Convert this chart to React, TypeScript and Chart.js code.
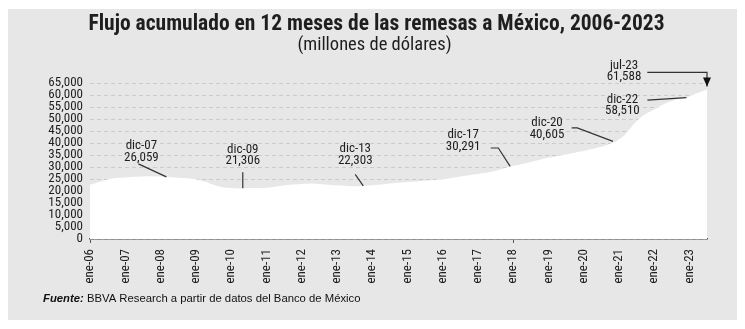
import { useEffect, useRef } from 'react';
import { Chart, registerables } from 'chart.js';

Chart.register(...registerables);

const MONTHS = ['ene', 'feb', 'mar', 'abr', 'may', 'jun', 'jul', 'ago', 'sep', 'oct', 'nov', 'dic'];
const YEARS = [2006, 2007, 2008, 2009, 2010, 2011, 2012, 2013, 2014, 2015, 2016, 2017, 2018, 2019, 2020, 2021, 2022, 2023];
const MONTHS_IN_2023 = 7;

const CATEGORIES = YEARS.flatMap((y) =>
  MONTHS.slice(0, y === 2023 ? MONTHS_IN_2023 : 12).map((m) => `${m}-${String(y).slice(2)}`)
);

// 12-month accumulated flow, millions of USD
const FLOW_2006 = [22600, 22900, 23300, 23700, 24100, 24500, 24800, 25100, 25300, 25400, 25500, 25567];
const FLOW_2007 = [25650, 25750, 25850, 25900, 25950, 26000, 26050, 26100, 26120, 26100, 26080, 26059];
const FLOW_2008 = [26000, 25950, 25900, 25850, 25700, 25600, 25500, 25450, 25400, 25300, 25200, 25145];
const FLOW_2009 = [24900, 24600, 24300, 24000, 23500, 23000, 22600, 22200, 21900, 21600, 21400, 21306];
const FLOW_2010 = [21200, 21150, 21100, 21050, 21100, 21150, 21200, 21250, 21250, 21280, 21300, 21304];
const FLOW_2011 = [21400, 21500, 21650, 21800, 22000, 22150, 22300, 22450, 22600, 22700, 22750, 22803];
const FLOW_2012 = [22900, 23000, 23050, 23100, 23100, 23000, 22900, 22800, 22700, 22600, 22500, 22438];
const FLOW_2013 = [22350, 22300, 22250, 22200, 22100, 22000, 21950, 21950, 22000, 22100, 22200, 22303];
const FLOW_2014 = [22400, 22500, 22600, 22700, 22850, 23000, 23100, 23200, 23300, 23400, 23550, 23647];
const FLOW_2015 = [23700, 23800, 23900, 24000, 24100, 24200, 24300, 24400, 24500, 24600, 24700, 24785];
const FLOW_2016 = [24900, 25050, 25200, 25400, 25600, 25800, 26000, 26200, 26400, 26600, 26800, 26993];
const FLOW_2017 = [27100, 27250, 27450, 27650, 27900, 28150, 28450, 28750, 29100, 29500, 29900, 30291];
const FLOW_2018 = [30500, 30700, 30950, 31200, 31500, 31800, 32100, 32400, 32700, 33000, 33350, 33677];
const FLOW_2019 = [33900, 34100, 34300, 34500, 34750, 34950, 35200, 35450, 35700, 35950, 36200, 36439];
const FLOW_2020 = [36700, 36950, 37300, 37500, 37800, 38100, 38400, 38800, 39200, 39700, 40250, 40605];
const FLOW_2021 = [41500, 42300, 43300, 44800, 46300, 47800, 49000, 50200, 51200, 52000, 52700, 53300];
const FLOW_2022 = [53900, 54600, 55300, 56000, 56600, 57100, 57500, 57900, 58300, 58600, 58800, 58900];
const FLOW_2023 = [59400, 59900, 60400, 60900, 61400, 61900, 62300];

const REMITTANCES = [
  ...FLOW_2006, ...FLOW_2007, ...FLOW_2008, ...FLOW_2009, ...FLOW_2010, ...FLOW_2011,
  ...FLOW_2012, ...FLOW_2013, ...FLOW_2014, ...FLOW_2015, ...FLOW_2016, ...FLOW_2017,
  ...FLOW_2018, ...FLOW_2019, ...FLOW_2020, ...FLOW_2021, ...FLOW_2022, ...FLOW_2023,
];

const Y_MIN = 0;
const Y_MAX = 65000;
const Y_STEP = 5000;

const CALLOUT_LABELS = ['dic-07', 'dic-09', 'dic-13', 'dic-17', 'dic-20', 'dic-22', 'jul-23'];
const CALLOUT_VALUES = ['26,059', '21,306', '22,303', '30,291', '40,605', '58,510', '61,588'];
const CALLOUT_ANCHORS = ['mar-08', 'may-10', 'oct-13', 'dic-17', 'nov-20', 'dic-22', 'jul-23'];

const TITLE = 'Flujo acumulado en 12 meses de las remesas a México, 2006-2023';
const SUBTITLE = '(millones de dólares)';
const SOURCE_BOLD = 'Fuente:';
const SOURCE_TEXT = ' BBVA Research a partir de datos del Banco de México';

// layout of callouts relative to their anchor pixel (style only)
const CALLOUT_LAYOUT = [
  { tx: -25, ty: -31, path: [[-28, -13], [0, 0]], arrow: false },
  { tx: 0, ty: -39, path: [[0, -16], [0, 0]], arrow: false },
  { tx: -8, ty: -37, path: [[-8, -11.5], [0, 0]], arrow: false },
  { tx: -47, ty: -31.5, path: [[-19.4, -18.3], [-11.8, -18.3], [0, 0]], arrow: false },
  { tx: -66, ty: -19.5, path: [[-41.3, -14.5], [-35.7, -14.5], [0, -1]], arrow: false },
  { tx: -64, ty: 2, path: [[-39, 2.5], [0, 0]], arrow: false },
  { tx: -83, ty: -24, path: [[-59.7, -17.1], [0, -17.1], [0, -3]], arrow: true },
];

const NARROW = '"Liberation Sans Narrow", "Arial Narrow", "Roboto Condensed", Roboto, sans-serif';
const SANS = '"Liberation Sans", Arial, sans-serif';
const TEXT = '#1e1e1e';

const overlayPlugin = {
  id: 'overlay',
  afterDraw(chart: any) {
    const { ctx, scales } = chart;
    const xs = scales.x;
    const ys = scales.y;
    const w = chart.width;
    ctx.save();
    ctx.fillStyle = TEXT;
    ctx.textAlign = 'center';
    ctx.textBaseline = 'middle';
    ctx.font = `bold 21.5px ${NARROW}`;
    ctx.fillText(TITLE, w / 2 + 4, 16);
    ctx.font = `18.5px ${NARROW}`;
    ctx.fillText(SUBTITLE, w / 2 + 2, 36);

    // callouts
    ctx.font = `13px ${NARROW}`;
    CALLOUT_LABELS.forEach((label, i) => {
      const idx = CATEGORIES.indexOf(CALLOUT_ANCHORS[i]);
      const ax = xs.getPixelForValue(idx);
      const ay = ys.getPixelForValue(REMITTANCES[idx]);
      const lay = CALLOUT_LAYOUT[i];
      ctx.fillStyle = TEXT;
      ctx.fillText(label, ax + lay.tx, ay + lay.ty);
      ctx.fillText(CALLOUT_VALUES[i], ax + lay.tx, ay + lay.ty + 11.5);
      ctx.strokeStyle = '#333';
      ctx.lineWidth = 1.2;
      ctx.beginPath();
      lay.path.forEach((p, j) => {
        if (j === 0) ctx.moveTo(ax + p[0], ay + p[1]);
        else ctx.lineTo(ax + p[0], ay + p[1]);
      });
      ctx.stroke();
      if (lay.arrow) {
        const last = lay.path[lay.path.length - 1];
        const tx = ax + last[0];
        const ty = ay + last[1];
        ctx.fillStyle = '#111';
        ctx.beginPath();
        ctx.moveTo(tx, ty);
        ctx.lineTo(tx - 4, ty - 9);
        ctx.lineTo(tx + 4, ty - 9);
        ctx.closePath();
        ctx.fill();
      }
    });

    // source
    ctx.textAlign = 'left';
    ctx.fillStyle = '#111';
    ctx.font = `italic bold 11.3px ${SANS}`;
    const x0 = 35;
    const y0 = 290;
    ctx.fillText(SOURCE_BOLD, x0, y0);
    const bw = ctx.measureText(SOURCE_BOLD).width;
    ctx.font = `11.3px ${SANS}`;
    ctx.fillText(SOURCE_TEXT, x0 + bw, y0);
    ctx.restore();
  },
};

export default function App() {
  const ref = useRef<HTMLCanvasElement | null>(null);

  useEffect(() => {
    if (!ref.current) return;
    const chart = new Chart(ref.current, {
      type: 'line',
      data: {
        labels: CATEGORIES,
        datasets: [
          {
            data: REMITTANCES,
            fill: 'origin',
            backgroundColor: '#ffffff',
            borderWidth: 0,
            borderColor: 'rgba(0,0,0,0)',
            pointRadius: 0,
            tension: 0,
          },
        ],
      },
      options: {
        responsive: false,
        animation: false,
        devicePixelRatio: 1,
        layout: { padding: { left: 0, right: 30, top: 74, bottom: 31 } },
        plugins: {
          legend: { display: false },
          title: { display: false },
          tooltip: { enabled: false },
        },
        scales: {
          x: {
            type: 'category',
            afterFit: (s: any) => {
              s.height = 50;
            },
            ticks: {
              autoSkip: false,
              maxRotation: 90,
              minRotation: 90,
              padding: 6,
              color: TEXT,
              font: { family: NARROW, size: 13 },
              callback: (_v: any, i: number) => (i % 12 === 0 ? CATEGORIES[i] : null),
            },
            grid: {
              drawOnChartArea: false,
              drawTicks: true,
              tickLength: 4,
              color: (c: any) => (c.index % 12 === 0 ? '#555' : 'rgba(0,0,0,0)'),
            },
            border: { display: true, color: '#555', width: 1.5 },
          },
          y: {
            min: Y_MIN,
            max: Y_MAX,
            afterFit: (s: any) => {
              s.width = 82;
            },
            ticks: {
              stepSize: Y_STEP,
              autoSkip: false,
              padding: 7,
              color: TEXT,
              font: { family: NARROW, size: 13 },
              callback: (v: any) => Number(v).toLocaleString('en-US'),
            },
            grid: { color: '#cbcbcb', lineWidth: 1, drawTicks: false },
            border: { display: false, dash: [4, 3] },
          },
        },
      },
      plugins: [overlayPlugin],
    });
    return () => chart.destroy();
  }, []);

  return (
    <div style={{ paddingTop: 1 }}>
      <div style={{ width: 729, height: 311, background: '#e7e7e7' }}>
        <canvas ref={ref} width={729} height={311} style={{ display: 'block' }} />
      </div>
    </div>
  );
}
